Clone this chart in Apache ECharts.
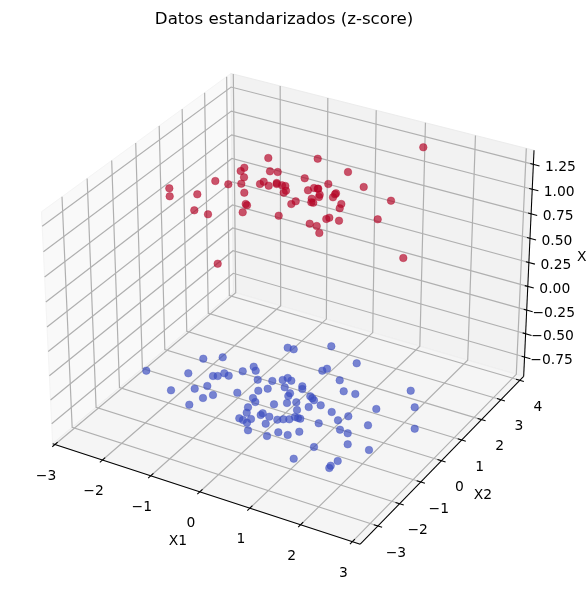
<!DOCTYPE html>
<html><head><meta charset="utf-8">
<style>html,body{margin:0;padding:0;background:#fff}#c{width:586px;height:590px}</style>
<script src="https://cdn.jsdelivr.net/npm/echarts@6/dist/echarts.min.js"></script>
</head><body><div id="c"></div>
<script>
// Axis ticks and limits of the 3D box
const x1Ticks = [-3,-2,-1,0,1,2,3];
const x2Ticks = [-3,-2,-1,0,1,2,3,4];
const x3Ticks = [-0.75,-0.5,-0.25,0,0.25,0.5,0.75,1,1.25];
const x1Lim = [-3.05,3.15];
const x2Lim = [-3.8,4.2];
const x3Lim = [-0.96,1.39];
const title = 'Datos estandarizados (z-score)';
// Points as read on the picture plane (horizontal, vertical view position)
const blueView = [[146.3,370.7],[203.3,358.7],[222.7,357.3],[188.3,373.3],[213,376],[217.7,376],[224.3,373.3],[228.7,375.7],[242.7,371.3],[253.7,366.7],[255.7,370.7],[257.7,379.7],[272.3,381],[171,390.3],[194.7,388.7],[207.3,386],[213,395],[203,398],[189.3,404.7],[237.3,392.7],[258.3,390.7],[267.7,388.7],[253,398],[255.3,402],[274,404.3],[248,407.3],[246.7,412.7],[260.7,415],[262.7,413.3],[269.3,416.7],[239.3,418.3],[243,420],[251,419],[247,422.7],[265.7,423.7],[277.3,419.7],[248,430.3],[267,436],[278.3,432.3],[287.7,347.7],[293.7,349.3],[331.3,346.3],[356.7,363.3],[322.3,370.7],[327,368.7],[339.7,380.3],[282.7,380],[287.7,378],[291.3,380.7],[284.7,387.3],[302.3,386.3],[302.3,389],[343.7,391.3],[355.3,394],[410.7,390.7],[290,393.3],[288.3,396],[310.3,396.3],[312.3,398.3],[314,400.3],[287,403],[296.3,402.3],[308.7,407],[320.7,405.3],[414.7,407.3],[297,410],[331.7,412],[376.3,409],[348.3,416.3],[283.3,419.3],[289.3,419.3],[295,417],[298,418],[300.3,418.7],[338,420.3],[318.7,423.3],[368,425.3],[414.7,428.7],[340,429.7],[347.7,433.3],[287.7,435],[299.3,431.7],[314,447],[347.7,444.3],[369,450],[293.7,458.7],[337.7,461],[330.7,465.7],[329.3,468]];
const redView = [[268.3,158],[244.3,167.7],[240.7,171],[270,171.3],[277.7,172],[244,177.3],[215.3,181],[228.3,184.3],[241.3,183.7],[260,184],[263.7,181.7],[268.7,185.7],[276.7,183],[276.7,184],[282,185.3],[285.3,186],[286,190.7],[283.7,192.7],[169.3,188.3],[169.7,196.3],[197.3,194.3],[244.3,192.7],[291.3,204],[295.7,201.3],[245.7,204],[247,205.3],[194.3,210.3],[208,214.3],[242.7,212.3],[278.7,215.7],[217.7,263.7],[423.3,147.3],[317.7,158.7],[348,172],[304.7,178.3],[328.3,184],[363.7,187],[308,190.3],[314,188],[318.3,188.7],[317.7,188.7],[319.7,194.7],[319,197],[336,193.3],[335,194.3],[333,197.3],[391,200.7],[311.7,198.7],[311.3,202.3],[313.3,202.7],[341.3,204],[339.7,208.3],[377.7,219.3],[329.3,217.7],[326.3,219],[339,220.7],[309.7,223.7],[316.7,226],[319.3,233],[403.3,258]];

// Camera of the 3D box (elevation 30, azimuth -60, distance 10)
const boxSize=[1.1905,1.1905,0.8929], U=[0.866,0.5,0], V=[-0.25,0.433,0.866], W=[0.433,-0.75,0.5];
const scale=2960, cx=292.5, cy=297.5;
const dot=(a,b)=>a[0]*b[0]+a[1]*b[1]+a[2]*b[2];
function project(x,y,z){
  const c=[(x-x1Lim[0])/(x1Lim[1]-x1Lim[0])-0.5,(y-x2Lim[0])/(x2Lim[1]-x2Lim[0])-0.5,(z-x3Lim[0])/(x3Lim[1]-x3Lim[0])-0.5].map((v,i)=>v*boxSize[i]);
  const d=10-dot(W,c);
  return [cx+scale*dot(U,c)/d, cy-scale*dot(V,c)/d];
}
const [x0,x9]=x1Lim,[y0,y9]=x2Lim,[z0,z9]=x3Lim;
const P=project;
const panes=[
  {pts:[P(x0,y0,z0),P(x0,y9,z0),P(x0,y9,z9),P(x0,y0,z9)],color:'#f9f9f9',edge:'#f4f4f4'},
  {pts:[P(x0,y9,z0),P(x9,y9,z0),P(x9,y9,z9),P(x0,y9,z9)],color:'#f2f2f2',edge:'#ececec'},
  {pts:[P(x0,y0,z0),P(x9,y0,z0),P(x9,y9,z0),P(x0,y9,z0)],color:'#f5f5f5',edge:'#efefef'}
];
const grid=[];
x1Ticks.forEach(t=>grid.push([P(t,y0,z0),P(t,y9,z0),P(t,y9,z9)]));
x2Ticks.forEach(t=>grid.push([P(x9,t,z0),P(x0,t,z0),P(x0,t,z9)]));
x3Ticks.forEach(t=>grid.push([P(x0,y0,t),P(x0,y9,t),P(x9,y9,t)]));
const black=[[P(x0,y0,z0),P(x9,y0,z0)],[P(x9,y0,z0),P(x9,y9,z0)],[P(x9,y9,z0),P(x9,y9,z9)]];
x1Ticks.forEach(t=>black.push([P(t,y0-0.11,z0),P(t,y0+0.11,z0)]));
x2Ticks.forEach(t=>black.push([P(x9-0.08,t,z0),P(x9+0.08,t,z0)]));
x3Ticks.forEach(t=>black.push([P(x9-0.06,y9,t),P(x9+0.12,y9,t)]));
const minus=s=>String(s).replace('-','\u2212');
const texts=[];
x1Ticks.forEach(t=>{const p=P(t,y0,z0);texts.push({x:p[0]-9,y:p[1]+31.5,t:minus(t),a:'center'});});
x2Ticks.forEach(t=>{const p=P(x9,t,z0);texts.push({x:p[0]+18,y:p[1]+27,t:minus(t),a:'center'});});
x3Ticks.forEach(t=>{const p=P(x9,y9,t);texts.push({x:p[0]+27,y:p[1]+3,t:minus(t.toFixed(2)),a:'center'});});
texts.push({x:178,y:541,t:'X1',a:'center'},{x:483,y:495,t:'X2',a:'center'},{x:577,y:257,t:'X3',a:'left'});

const font='"DejaVu Sans"';
const polySeries=(name,items,stroke,width,z)=>({
  type:'custom',name,coordinateSystem:'cartesian2d',silent:true,z,animation:false,clip:false,
  data:items.map((_,i)=>[i,0]),encode:{x:0,y:1},
  renderItem:(p,api)=>{
    const it=items[api.value(0)];
    const pts=(it.pts||it).map(q=>api.coord(q));
    return it.pts?{type:'polygon',shape:{points:pts},style:{fill:it.color,stroke:it.edge,lineWidth:1}}
                 :{type:'polyline',shape:{points:pts},style:{fill:null,stroke,lineWidth:width}};
  }
});
const scatter=(name,data,color)=>({
  type:'scatter',name,data,symbol:'circle',symbolSize:7.6,z:5,silent:true,animation:false,
  itemStyle:{color,borderColor:color,borderWidth:0.5,opacity:0.68}
});
const chart=echarts.init(document.getElementById('c'),null,{renderer:'canvas',width:586,height:590});
chart.setOption({
  animation:false,backgroundColor:'#ffffff',
  title:{text:title,left:279,top:6,textAlign:'center',textStyle:{fontFamily:font,fontSize:16.67,fontWeight:'normal',color:'#000'}},
  grid:{left:0,right:0,top:0,bottom:0},
  xAxis:{type:'value',min:0,max:586,show:false},
  yAxis:{type:'value',min:0,max:590,inverse:true,show:false},
  series:[
    polySeries('panes',panes,null,0,1),
    polySeries('grid',grid,'#b0b0b0',1.2,2),
    polySeries('axes',black,'#000000',1.05,3),
    scatter('Clase 0',blueView,'#3b4cc0'),
    scatter('Clase 1',redView,'#b40426'),
    {type:'custom',name:'labels',silent:true,z:6,animation:false,clip:false,
     data:texts.map((_,i)=>[i,0]),encode:{x:0,y:1},
     renderItem:(p,api)=>{const t=texts[api.value(0)];const c=api.coord([t.x,t.y]);
       return {type:'text',x:c[0],y:c[1],style:{text:t.t,fill:'#000',font:'13.89px '+font,textAlign:t.a,textVerticalAlign:'middle'}};}}
  ]
});
</script></body></html>
